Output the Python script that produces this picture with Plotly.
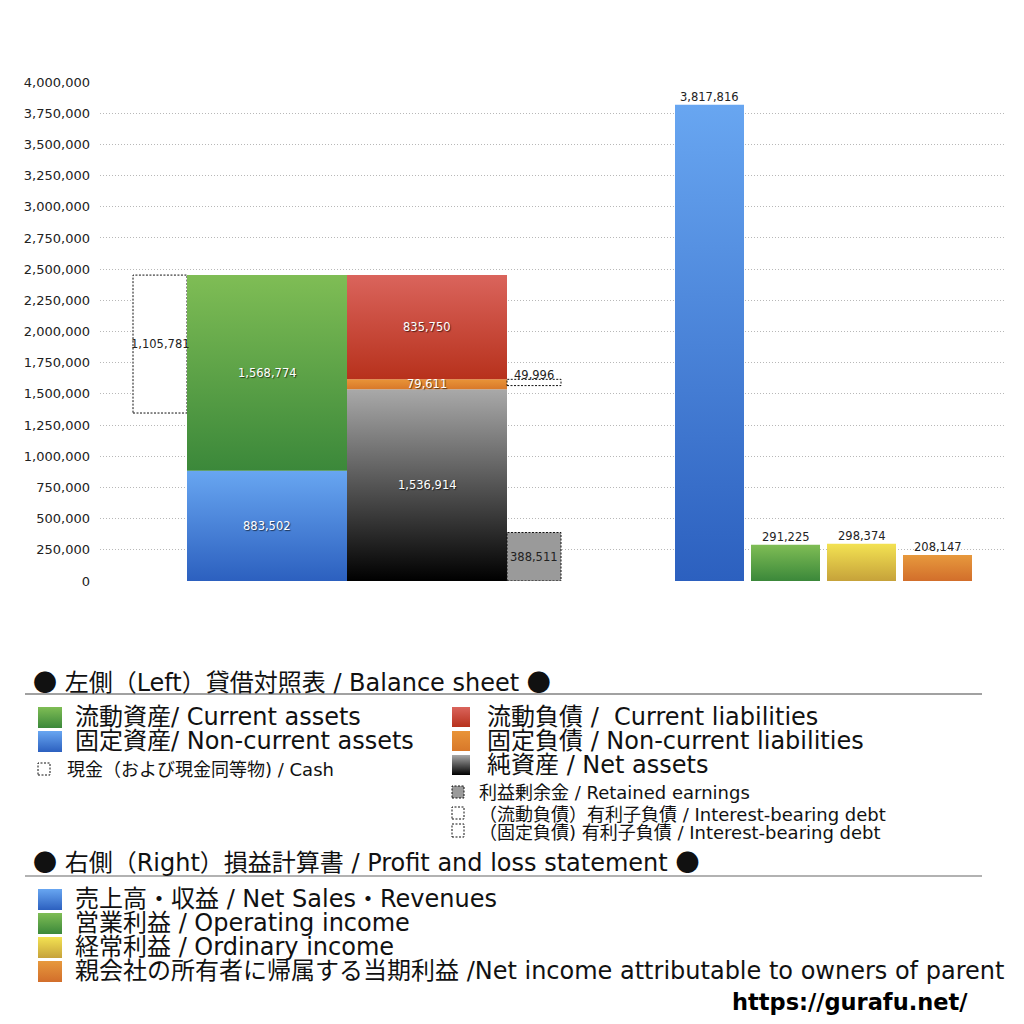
import plotly.graph_objects as go

# ---------------- data ----------------
current_assets = 1568774
noncurrent_assets = 883502
cash = 1105781
current_liabilities = 835750
noncurrent_liabilities = 79611
net_assets = 1536914
retained_earnings = 388511
ibd_noncurrent = 49996

pl_labels = ["売上高・収益", "営業利益", "経常利益", "親会社の所有者に帰属する当期利益"]
pl_values = [3817816, 291225, 298374, 208147]

y_ticks = list(range(0, 4000001, 250000))

# ---------------- layout constants (pixels) ----------------
W = H = 1024
PX0, PX1 = 100, 1005          # plot area x
PY_TOP, PY_BOT = 82, 581      # plot area y
CASH_X = (133, 187)
ASSET_X = (187, 347)
LIAB_X = (347, 507)
SIDE_X = (507, 561)
PL_X0 = [675, 751, 827, 903]
PL_W = 69

JP = "Noto Sans CJK JP"
MIX = "DejaVu Sans, Noto Sans CJK JP"
NUM = "DejaVu Sans"
DOT = '<span style="font-family:Noto Sans CJK JP">●</span>'
BIG = 24
SMALL = 18

def grad(bottom, top):
    return dict(type="vertical", colorscale=[[0, bottom], [1, top]])

fig = go.Figure()

def rect(x0, x1, y0, y1, gradient=None, fillcolor=None, dashed=False, xa="x", ya="y"):
    kw = {}
    if gradient is not None:
        kw["fillgradient"] = gradient
    else:
        kw["fillcolor"] = fillcolor if fillcolor else "rgba(255,255,255,1)"
    line = dict(width=1, color="#111", dash="2px,1.5px") if dashed else dict(width=0)
    fig.add_trace(go.Scatter(
        x=[x0, x1, x1, x0, x0], y=[y0, y0, y1, y1, y0],
        mode="lines", fill="toself", line=line,
        hoverinfo="skip", showlegend=False, xaxis=xa, yaxis=ya, **kw))

C_GREEN = grad("#3b883a", "#7fbd55")
C_BLUE = grad("#2c60bf", "#68a6f1")
C_RED = grad("#b7311c", "#da645c")
C_ORANGE = grad("#d8782a", "#e99438")
C_BLACK = grad("#000000", "#a9a9a9")
C_YELLOW = grad("#c6a23a", "#f3e252")
C_ORANGE2 = grad("#d26e2b", "#e7993d")

# ---------------- balance sheet ----------------
total_assets = current_assets + noncurrent_assets
rect(*CASH_X, total_assets - cash, total_assets, fillcolor="white", dashed=True)
rect(*ASSET_X, 0, noncurrent_assets, gradient=C_BLUE)
rect(*ASSET_X, noncurrent_assets, total_assets, gradient=C_GREEN)

na_top = net_assets
ncl_top = na_top + noncurrent_liabilities
cl_top = ncl_top + current_liabilities
rect(*LIAB_X, 0, na_top, gradient=C_BLACK)
rect(*LIAB_X, na_top, ncl_top, gradient=C_ORANGE)
rect(*LIAB_X, ncl_top, cl_top, gradient=C_RED)
rect(*SIDE_X, 0, retained_earnings, fillcolor="#9a9a9a", dashed=True)
rect(*SIDE_X, ncl_top - ibd_noncurrent, ncl_top, fillcolor="white", dashed=True)

# ---------------- P&L ----------------
pl_grads = [C_BLUE, C_GREEN, C_YELLOW, C_ORANGE2]
for x0, v, g in zip(PL_X0, pl_values, pl_grads):
    rect(x0, x0 + PL_W, 0, v, gradient=g)

# ---------------- value labels ----------------
ann = []
def lab(x, y, v, white=False, yanchor="middle", yshift=0):
    f = dict(family=NUM, size=11.5, color="white" if white else "#222")
    if white:
        f["shadow"] = "1px 1px 1px rgba(0,0,0,0.6)"
    ann.append(dict(x=x, y=y, xref="x", yref="y", text=f"{v:,}", showarrow=False,
                    font=f, xanchor="center", yanchor=yanchor, yshift=yshift))

mid = lambda a: (a[0] + a[1]) / 2
lab(mid(CASH_X), total_assets - cash / 2, cash)
lab(mid(ASSET_X), noncurrent_assets + current_assets / 2, current_assets, white=True)
lab(mid(ASSET_X), noncurrent_assets / 2, noncurrent_assets, white=True)
lab(mid(LIAB_X), ncl_top + current_liabilities / 2, current_liabilities, white=True)
lab(mid(LIAB_X), na_top + noncurrent_liabilities / 2, noncurrent_liabilities, white=True)
lab(mid(LIAB_X), na_top / 2, net_assets, white=True)
lab(mid(SIDE_X), retained_earnings / 2, retained_earnings)
lab(mid(SIDE_X), ncl_top, ibd_noncurrent, yanchor="bottom", yshift=-5)
for x0, v in zip(PL_X0, pl_values):
    lab(x0 + PL_W / 2, v, v, yanchor="bottom", yshift=-1)

# ---------------- legend (pixel overlay axes x2/y2) ----------------
P = lambda y: H - y

def ptxt(x, y, text, size=BIG, anchor="left", bold=False, family=MIX, color="#111"):
    ann.append(dict(x=x, y=P(y), xref="x2", yref="y2", text=f"<b>{text}</b>" if bold else text,
                    showarrow=False, xanchor=anchor, yanchor="middle",
                    font=dict(family=family, size=size, color=color)))

def psq(x0, x1, y0, y1, gradient=None, fillcolor=None, dashed=False):
    rect(x0, x1, P(y1), P(y0), gradient=gradient, fillcolor=fillcolor, dashed=dashed, xa="x2", ya="y2")

shapes = [
    dict(type="line", xref="x2", yref="y2", x0=25, x1=982, y0=P(694), y1=P(694),
         line=dict(color="#444", width=1.2)),
    dict(type="line", xref="x2", yref="y2", x0=25, x1=982, y0=P(876), y1=P(876),
         line=dict(color="#666", width=1.2)),
]

ptxt(31, 680, f"{DOT} 左側（Left）貸借対照表 / Balance sheet {DOT}")
psq(38, 62, 707, 728, gradient=C_GREEN)
ptxt(73, 717, "流動資産/ Current assets")
psq(38, 62, 731, 752, gradient=C_BLUE)
ptxt(73, 741, "固定資産/ Non-current assets")
psq(38, 50, 763, 775, fillcolor="white", dashed=True)
ptxt(65, 769, "現金（および現金同等物) / Cash", size=SMALL)

psq(452, 470, 707, 727, gradient=C_RED)
ptxt(485, 717, "流動負債 /\u00a0 Current liabilities")
psq(452, 470, 731, 751, gradient=C_ORANGE)
ptxt(485, 741, "固定負債 / Non-current liabilities")
psq(452, 470, 755, 775, gradient=C_BLACK)
ptxt(485, 765, "純資産 / Net assets")
psq(452, 464, 786, 798, fillcolor="#9a9a9a", dashed=True)
ptxt(477, 792, "利益剰余金 / Retained earnings", size=SMALL)
psq(452, 464, 807, 819, fillcolor="white", dashed=True)
ptxt(477, 814, "（流動負債）有利子負債 / Interest-bearing debt", size=SMALL)
psq(452, 464, 824, 837, fillcolor="white", dashed=True)
ptxt(477, 832, "（固定負債) 有利子負債 / Interest-bearing debt", size=SMALL)

ptxt(31, 860, f"{DOT} 右側（Right）損益計算書 / Profit and loss statement {DOT}")
pl_legend = [
    "売上高・収益 / Net Sales・Revenues",
    "営業利益 / Operating income",
    "経常利益 / Ordinary income",
    "親会社の所有者に帰属する当期利益 /Net income attributable to owners of parent",
]
for i, (t, g) in enumerate(zip(pl_legend, pl_grads)):
    y0 = 889 + 24 * i
    psq(38, 62, y0, y0 + 21, gradient=g)
    ptxt(73, y0 + 10, t)

ptxt(970, 1002, "https://gurafu.net/", size=22.5, anchor="right", bold=True,
     family="DejaVu Sans", color="#000")

fig.update_layout(
    width=W, height=H, autosize=False,
    margin=dict(l=0, r=0, t=0, b=0, pad=0, autoexpand=False),
    paper_bgcolor="white", plot_bgcolor="rgba(0,0,0,0)",
    showlegend=False,
    annotations=ann, shapes=shapes,
    xaxis=dict(domain=[PX0 / W, PX1 / W], range=[PX0, PX1], showgrid=False,
               zeroline=False, showticklabels=False, fixedrange=True, automargin=False),
    yaxis=dict(domain=[(H - PY_BOT) / H, (H - PY_TOP) / H], range=[0, 4000000],
               tickvals=y_ticks, tickformat=",", showgrid=True, gridcolor="#b8b8b8",
               griddash="1px,2px", gridwidth=1, zeroline=False, ticks="",
               ticklabelstandoff=9, automargin=False,
               tickfont=dict(family=NUM, size=13, color="#222")),
    xaxis2=dict(domain=[0, 1], range=[0, W], anchor="y2", visible=False, fixedrange=True,
                automargin=False),
    yaxis2=dict(domain=[0, 1], range=[0, H], anchor="x2", visible=False, fixedrange=True,
                automargin=False),
)

fig.write_html("out.html", config={"displayModeBar": False},
               post_script="document.body.style.margin='0';document.body.style.overflow='hidden';")
